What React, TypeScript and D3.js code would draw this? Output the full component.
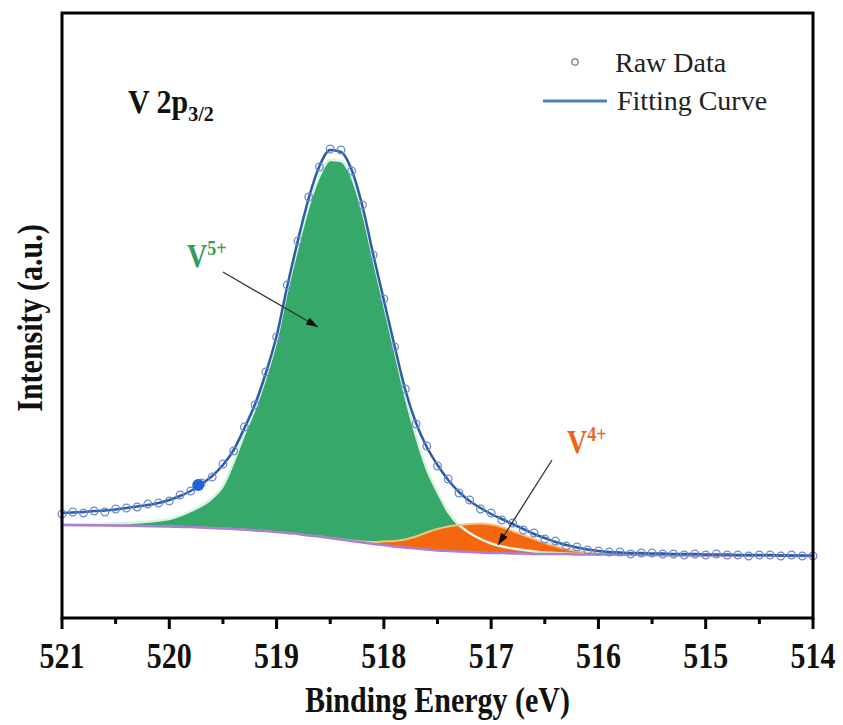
import React from "react";
import * as d3 from "d3";

// Binding-energy grid of the measured spectrum (eV)
const rawEnergy = [
  521.0, 520.9, 520.8, 520.7, 520.6, 520.5, 520.4, 520.3, 520.2, 520.1,
  520.0, 519.9, 519.8, 519.7, 519.6, 519.5, 519.4, 519.3, 519.2, 519.1,
  519.0, 518.9, 518.8, 518.7, 518.6, 518.5, 518.4, 518.3, 518.2, 518.1,
  518.0, 517.9, 517.8, 517.7, 517.6, 517.5, 517.4, 517.3, 517.2, 517.1,
  517.0, 516.9, 516.8, 516.7, 516.6, 516.5, 516.4, 516.3, 516.2, 516.1,
  516.0, 515.9, 515.8, 515.7, 515.6, 515.5, 515.4, 515.3, 515.2, 515.1,
  515.0, 514.9, 514.8, 514.7, 514.6, 514.5, 514.4, 514.3, 514.2, 514.1,
  514.0,
];

// Measured counts (a.u.)
const rawIntensity = [
  104, 106, 105, 107, 106, 109, 110, 111, 114, 115,
  117, 123, 127, 135, 141, 154, 167, 191, 213, 246,
  281, 333, 377, 421, 451, 469, 468, 447, 413, 363,
  319, 271, 229, 194, 172, 152, 139, 125, 118, 109,
  105, 98, 95, 88, 85, 79, 77, 72, 71, 68,
  67, 66, 66, 64, 65, 65, 64, 64, 63, 64,
  63, 64, 63, 63, 62, 63, 63, 62, 63, 62,
  62,
];

// Envelope of the peak fit on the same grid
const fitIntensity = [
  105, 105.5, 106, 107, 107.5, 108.5, 110, 111.5, 113, 115,
  118, 122, 127, 134, 142, 153, 168, 190, 214, 245,
  282, 332, 378, 420, 452, 468, 466, 448, 412, 364,
  318, 272, 228, 195, 171, 153, 138, 126, 117, 110,
  104, 99, 94, 89, 84, 80, 76, 73, 70.5, 68.5,
  67, 66, 65.5, 65, 65, 64.5, 64.5, 64, 64, 64,
  63.5, 63.5, 63.5, 63, 63, 63, 63, 62.5, 62.5, 62.5,
  62.5,
];

// Highlighted data point
const markedEnergy = [519.73];
const markedIntensity = [133];

// Grid for the fitted components and the background
const componentEnergy = [
  521.0, 520.5, 520.0, 519.8,
  519.6, 519.5, 519.4, 519.3, 519.2, 519.1, 519.0, 518.9, 518.8, 518.7,
  518.6, 518.5, 518.4, 518.3, 518.2, 518.1, 518.0, 517.9, 517.8, 517.7,
  517.6, 517.5, 517.4, 517.3, 517.2, 517.1, 517.0, 516.9, 516.8, 516.7,
  516.6, 516.5, 516.4, 516.3, 516.2, 516.1, 516.0,
  515.5, 515.0, 514.5, 514.0,
];

// Shirley-type background
const backgroundIntensity = [
  93, 92.5, 91.5, 91,
  90, 89.5, 89, 88.5, 87.5, 87, 86, 85, 84, 82.5,
  81.5, 80, 78.5, 77, 75.5, 74, 73, 71.5, 70.5, 69.5,
  68.5, 67.5, 67, 66.5, 66, 65.5, 65, 65, 64.5, 64.5,
  64, 64, 64, 64, 63.5, 63.5, 63.5,
  63, 62.5, 62.5, 62,
];

// V5+ component (above background)
const v5Intensity = [
  0.5, 2, 7.5, 16,
  30, 42.5, 67, 95.5, 122.5, 154, 192, 243, 288, 329.5,
  360.5, 378, 378.5, 364, 331.5, 286, 241, 196.5, 151.5, 112.5,
  80.5, 58.5, 39, 26.5, 19, 13.5, 9.5, 6.5, 5, 3.5,
  2.5, 1.5, 1, 0.5, 0.5, 0.3, 0.2,
  0, 0, 0, 0,
];

// V4+ component (above background)
const v4Intensity = [
  0, 0, 0, 0,
  0, 0, 0, 0, 0, 0, 0, 0, 0, 0,
  0, 0, 0.3, 0.5, 1, 2, 3.5, 5.5, 8, 12,
  17, 21.5, 24.5, 26.5, 28, 29, 28.5, 26, 22.5, 18.5,
  15, 11, 8, 5, 3.5, 2, 1,
  0.3, 0, 0, 0,
];

const xTicks = [521, 520, 519, 518, 517, 516, 515, 514];

const W = 843;
const H = 725;
const plot = { left: 62, right: 813, top: 13, bottom: 618 };
const SERIF = "'Liberation Serif', 'Times New Roman', serif";

export default function App() {
  const x = d3.scaleLinear().domain([521, 514]).range([plot.left, plot.right]);
  const y = d3.scaleLinear().domain([0, 605]).range([plot.bottom, plot.top]);

  const comp = componentEnergy.map((e, i) => ({
    e,
    bg: backgroundIntensity[i],
    v5: v5Intensity[i],
    v4: v4Intensity[i],
  }));

  const areaV5 = d3
    .area<any>()
    .x((d) => x(d.e))
    .y0((d) => y(d.bg))
    .y1((d) => y(d.bg + d.v5))
    .curve(d3.curveMonotoneX);
  const areaV4 = d3
    .area<any>()
    .x((d) => x(d.e))
    .y0((d) => y(d.bg))
    .y1((d) => y(d.bg + d.v4))
    .curve(d3.curveMonotoneX);
  const lineV5 = d3
    .line<any>()
    .x((d) => x(d.e))
    .y((d) => y(d.bg + d.v5))
    .curve(d3.curveMonotoneX);
  const lineV4 = d3
    .line<any>()
    .x((d) => x(d.e))
    .y((d) => y(d.bg + d.v4))
    .curve(d3.curveMonotoneX);
  const lineBg = d3
    .line<any>()
    .x((d) => x(d.e))
    .y((d) => y(d.bg))
    .curve(d3.curveMonotoneX);

  const fitPts = rawEnergy.map((e, i) => ({ e, v: fitIntensity[i] }));
  const lineFit = d3
    .line<any>()
    .x((d) => x(d.e))
    .y((d) => y(d.v))
    .curve(d3.curveMonotoneX);

  const minorTicks = xTicks.slice(0, -1).map((t) => t - 0.5);

  // annotation anchors in data units
  const a5 = { x1: x(519.5), y1: y(346), x2: x(518.614), y2: y(291) };
  const a4 = { x1: x(516.433), y1: y(158), x2: x(516.936), y2: y(73) };

  const tall = "scale(1,1.22)";

  return (
    <svg
      width={W}
      height={H}
      style={{ position: "absolute", left: 0, top: 0, background: "#fff" }}
      fontFamily={SERIF}
    >
      <defs>
        <marker
          id="arrowHead"
          viewBox="0 0 12 8"
          refX="12"
          refY="4"
          markerWidth="12"
          markerHeight="8"
          markerUnits="userSpaceOnUse"
          orient="auto"
        >
          <path d="M0,0 L12,4 L0,8 Z" fill="#111" />
        </marker>
      </defs>

      {/* fitted components */}
      <path d={areaV5(comp) || ""} fill="#36a86a" />
      <path d={areaV4(comp) || ""} fill="#f4670f" />
      <path d={lineV5(comp) || ""} fill="none" stroke="#d9f2e2" strokeWidth={2.5} />
      <path d={lineV4(comp) || ""} fill="none" stroke="#efc584" strokeWidth={2} />
      <path d={lineBg(comp) || ""} fill="none" stroke="#a97fd3" strokeWidth={2.5} />

      {/* fit envelope */}
      <path d={lineFit(fitPts) || ""} fill="none" stroke="#2c5ba8" strokeWidth={2.5} />

      {/* measured points */}
      {rawEnergy.map((e, i) => (
        <circle
          key={i}
          cx={x(e)}
          cy={y(rawIntensity[i])}
          r={3.8}
          fill="none"
          stroke="#6b8ccc"
          strokeWidth={1.3}
        />
      ))}
      {markedEnergy.map((e, i) => (
        <circle key={"m" + i} cx={x(e)} cy={y(markedIntensity[i])} r={6} fill="#1e64d6" />
      ))}

      {/* annotations */}
      <line
        x1={a5.x1}
        y1={a5.y1}
        x2={a5.x2}
        y2={a5.y2}
        stroke="#333"
        strokeWidth={1.3}
        markerEnd="url(#arrowHead)"
      />
      <line
        x1={a4.x1}
        y1={a4.y1}
        x2={a4.x2}
        y2={a4.y2}
        stroke="#333"
        strokeWidth={1.3}
        markerEnd="url(#arrowHead)"
      />
      <text
        transform={`translate(${x(519.835)},${y(351)}) ${tall}`}
        fill="#2f9e5f"
        fontWeight="bold"
        fontSize={28}
      >
        V
        <tspan dy={-10} fontSize={18}>
          5+
        </tspan>
      </text>
      <text
        transform={`translate(${x(516.293)},${y(165)}) ${tall}`}
        fill="#e8671d"
        fontWeight="bold"
        fontSize={28}
      >
        V
        <tspan dy={-10} fontSize={18}>
          4+
        </tspan>
      </text>
      <text
        transform={`translate(${x(520.385)},${y(505)}) scale(1,1.1)`}
        fill="#111"
        fontWeight="bold"
        fontSize={30}
      >
        V 2p
        <tspan dy={7} fontSize={20}>
          3/2
        </tspan>
      </text>

      {/* legend */}
      <circle cx={575} cy={62} r={3.2} fill="none" stroke="#777" strokeWidth={1.2} />
      <text x={615} y={72} fontSize={28} fill="#222">
        Raw Data
      </text>
      <line x1={543} x2={607} y1={101} y2={101} stroke="#4a7fc0" strokeWidth={3} />
      <text x={617} y={110} fontSize={28} fill="#222">
        Fitting Curve
      </text>

      {/* frame */}
      <rect
        x={plot.left}
        y={plot.top}
        width={plot.right - plot.left}
        height={plot.bottom - plot.top}
        fill="none"
        stroke="#000"
        strokeWidth={3}
      />

      {/* x axis ticks */}
      {xTicks.map((t) => (
        <g key={t}>
          <line
            x1={x(t)}
            x2={x(t)}
            y1={plot.bottom}
            y2={plot.bottom + 11}
            stroke="#000"
            strokeWidth={3}
          />
          <text
            transform={`translate(${x(t)},${plot.bottom + 50}) ${tall}`}
            textAnchor="middle"
            fontWeight="bold"
            fontSize={30}
            fill="#111"
          >
            {t}
          </text>
        </g>
      ))}
      {minorTicks.map((t) => (
        <line
          key={"mn" + t}
          x1={x(t)}
          x2={x(t)}
          y1={plot.bottom}
          y2={plot.bottom + 6}
          stroke="#000"
          strokeWidth={3}
        />
      ))}

      {/* axis titles */}
      <text
        transform={`translate(${(plot.left + plot.right) / 2},712) ${tall}`}
        textAnchor="middle"
        fontWeight="bold"
        fontSize={30}
        fill="#111"
      >
        Binding Energy (eV)
      </text>
      <text
        transform={`translate(42, 318) rotate(-90) ${tall}`}
        textAnchor="middle"
        fontWeight="bold"
        fontSize={30}
        fill="#111"
      >
        Intensity (a.u.)
      </text>
    </svg>
  );
}
